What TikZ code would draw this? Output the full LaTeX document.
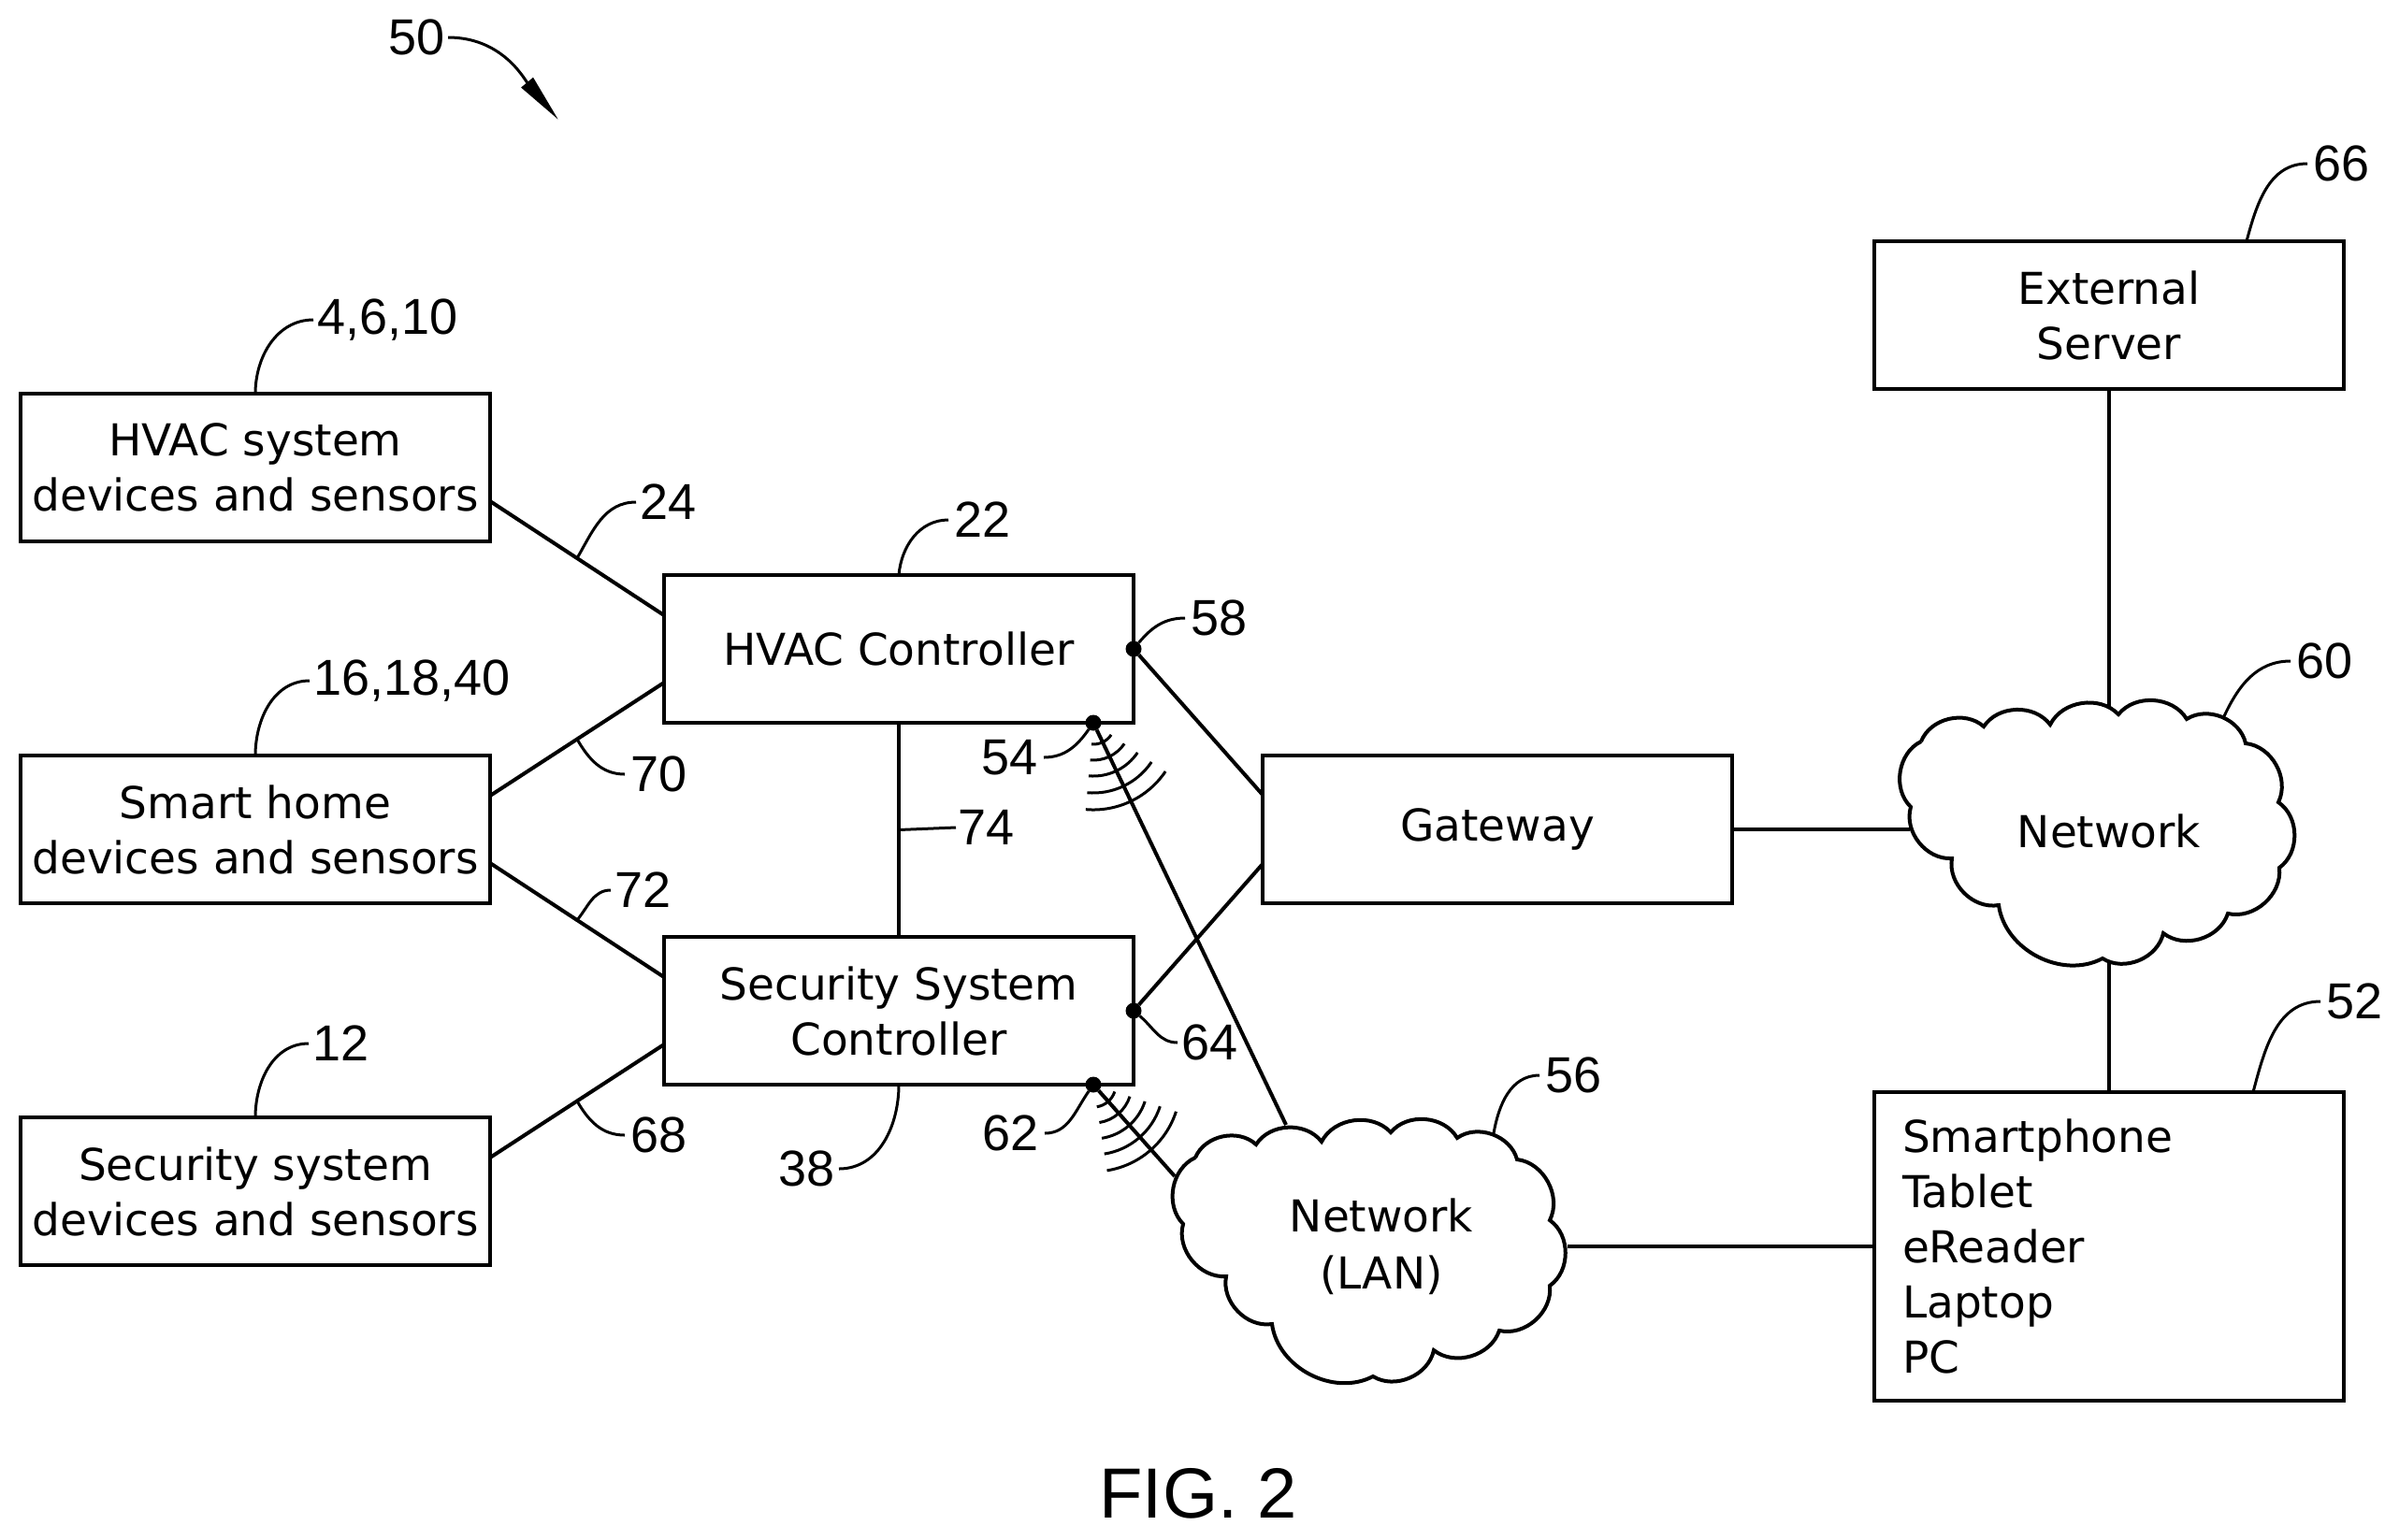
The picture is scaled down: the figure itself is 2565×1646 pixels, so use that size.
\documentclass[tikz,border=0pt]{standalone}
\usepackage{fontspec}
\setmainfont{DejaVu Sans}
\newfontfamily\numfont{Liberation Sans}
\usetikzlibrary{arrows.meta,calc,positioning}
\tikzset{box/.style={draw, line width=2pt, outer sep=0pt, inner sep=0pt, minimum width=251pt, minimum height=79pt, align=center, font=\fontsize{23.5}{29.5}\selectfont}}
\tikzset{wire/.style={draw, line width=2pt}}
\tikzset{leader/.style={draw, line width=1.5pt}}
\tikzset{num/.style={inner sep=0pt, outer sep=0pt, font=\fontsize{27}{30}\numfont}}
\tikzset{spot/.style={circle, fill=black, inner sep=0pt, outer sep=0pt, minimum size=8.5pt}}
\tikzset{lobe/.style={bend left=55}}
\tikzset{cloudtext/.style={align=center, inner sep=0pt, font=\fontsize{23.5}{30.5}\selectfont}}
\begin{document}
\begin{tikzpicture}[x=0.5pt,y=-0.5pt,node distance=114.5pt]
	\useasboundingbox (0,0) rectangle (2565,1646);
	\node [box]                                                  at (273,500)  (hvacsys)  {HVAC system\\devices and sensors};
	\node [box, below=of hvacsys]                                              (smart)    {Smart home\\devices and sensors};
	\node [box, below=of smart]                                                (secsys)   {Security system\\devices and sensors};
	\node [box, right=93pt of hvacsys, yshift=-97pt]                           (hvacctrl) {HVAC Controller};
	\node [box, below=of hvacctrl]                                             (secctrl)  {Security System\\Controller};
	\node [box, right=69pt of hvacctrl, yshift=-96.5pt]                        (gateway)  {Gateway};
	\node [box]                                                  at (2255,337) (server)   {External\\Server};
	\node [box, minimum height=165pt, text width=221pt, align=left, inner xsep=15pt] at (2255,1333) (phone) {Smartphone\\Tablet\\eReader\\Laptop\\PC};
	\node [cloudtext] at (2255,889)  (net) {Network};
	\node [cloudtext] at (1477,1333) (lan) {Network\\(LAN)};
	\node [num, font=\fontsize{38}{40}\numfont] at (1281,1597) (fig) {FIG. 2};
	%
	\node [spot] at (hvacctrl.east) (d58) {};
	\node [spot] at (secctrl.east)  (d64) {};
	\node [spot, xshift=104pt] at (hvacctrl.south) (d54) {};
	\node [spot, xshift=104pt] at (secctrl.south)  (d62) {};
	%
	\draw [wire] (2054,793) to[lobe] (2121,777) to[lobe] (2192,775) to[lobe] (2265,764) to[lobe] (2338,769) to[lobe] (2401,795) to[lobe] (2436,858) to[lobe] (2437,928) to[lobe] (2382,977) to[lobe] (2313,998) to[lobe] (2248,1025) to[lobe] (2137,968) to[lobe] (2087,918) to[lobe] (2043,863) to[lobe] (2054,793);
	\draw [wire] (1278,1238) to[lobe] (1343,1224) to[lobe] (1413,1221) to[lobe] (1487,1211) to[lobe] (1558,1217) to[lobe] (1622,1240) to[lobe] (1657,1305) to[lobe] (1657,1375) to[lobe] (1603,1423) to[lobe] (1533,1444) to[lobe] (1468,1472) to[lobe] (1360,1416) to[lobe] (1311,1365) to[lobe] (1265,1309) to[lobe] (1278,1238);
	\coordinate (nettop)   at (2255,758);
	\coordinate (netleft)  at (2042,887);
	\coordinate (netdown)  at (2255,1030);
	\coordinate (lantop)   at (1375,1203);
	\coordinate (lanleft)  at (1256,1258);
	\coordinate (lanright) at (1676,1333);
	%
	\draw [wire] ([yshift=-18pt]hvacsys.east) -- coordinate[pos=0.5] (c24) ([yshift=18pt]hvacctrl.west);
	\draw [wire] ([yshift=18pt]smart.east) -- coordinate[pos=0.5] (c70) ([yshift=-18pt]hvacctrl.west);
	\draw [wire] ([yshift=-18pt]smart.east) -- coordinate[pos=0.5] (c72) ([yshift=18pt]secctrl.west);
	\draw [wire] ([yshift=18pt]secsys.east) -- coordinate[pos=0.5] (c68) ([yshift=-18pt]secctrl.west);
	\draw [wire] (hvacctrl) -- coordinate[pos=0.5] (c74) (secctrl);
	\draw [wire] (d58) -- ([yshift=18.5pt]gateway.west);
	\draw [wire] (d64) -- ([yshift=-18.5pt]gateway.west);
	\draw [wire] (d54) -- (lantop);
	\draw [wire] (d62) -- (lanleft);
	\draw [wire] (gateway) -- (netleft);
	\draw [wire] (server) -- (nettop);
	\draw [wire] (netdown) -- (phone.north);
	\draw [wire] (lanright) -- (phone.west);
	%
	\foreach \r in {23,40,57,75,93}
		\draw [leader] ([shift={(95:\r)}]d54.center) arc [start angle=95, end angle=34, radius=\r];
	\foreach \r in {24,41,58,75,93}
		\draw [leader] ([shift={(81:\r)}]d62.center) arc [start angle=81, end angle=18, radius=\r];
	%
	\node [num, anchor=west] at (415,40)    (l50)  {50};
	\node [num, anchor=west] at (2455,707)  (l60)  {60};
	\node [num, anchor=west] at (1652,1150) (l56)  {56};
	\node [num, anchor=west] at (2487,1071) (l52)  {52};
	\node [num, anchor=west] at (2473,175)  (l66)  {66};
	\node [num, anchor=west] at (339,342)   (l4)   {4,6,10};
	\node [num, anchor=west] at (684,537)   (l24)  {24};
	\node [num, anchor=west] at (1020,556)  (l22)  {22};
	\node [num, anchor=west] at (335,728)   (l16)  {16,18,40};
	\node [num, anchor=west] at (674,828)   (l70)  {70};
	\node [num, anchor=west] at (657,952)   (l72)  {72};
	\node [num, anchor=west] at (334,1116)  (l12)  {12};
	\node [num, anchor=west] at (674,1214)  (l68)  {68};
	\node [num, anchor=east] at (893,1250)  (l38)  {38};
	\node [num, anchor=west] at (1024,885)  (l74)  {74};
	\node [num, anchor=west] at (1273,661)  (l58)  {58};
	\node [num, anchor=east] at (1110,810)  (l54)  {54};
	\node [num, anchor=west] at (1263,1115) (l64)  {64};
	\node [num, anchor=east] at (1111,1212) (l62)  {62};
	%
	\coordinate (tip50) at (597,128);
	\draw [leader, -{Stealth[length=26pt,width=8pt,inset=0pt]}] ([xshift=2pt]l50.east) to[out=0,in=130] (tip50);
	\draw [leader] ([xshift=73.5pt]server.north) to[out=75,in=180] ([xshift=-3pt]l66.west);
	\draw [leader] (hvacsys.north) to[out=90,in=180] ([xshift=-2pt]l4.west);
	\draw [leader] (c24) to[out=60,in=180] ([xshift=-2pt]l24.west);
	\draw [leader] (hvacctrl.north) to[out=85,in=180] ([xshift=-3pt]l22.west);
	\draw [leader] (smart.north) to[out=90,in=180] ([xshift=-2pt]l16.west);
	\draw [leader] (c70) to[out=-60,in=180] ([xshift=-3pt]l70.west);
	\draw [leader] (c72) to[out=50,in=180] ([xshift=-2pt]l72.west);
	\draw [leader] (secsys.north) to[out=90,in=180] ([xshift=-2pt]l12.west);
	\draw [leader] (c68) to[out=-60,in=180] ([xshift=-3pt]l68.west);
	\draw [leader] (secctrl.south) to[out=-90,in=0] ([xshift=2pt]l38.east);
	\draw [leader] (c74) -- ([xshift=-1pt]l74.west);
	\draw [leader] (d58) to[out=50,in=180] ([xshift=-3pt]l58.west);
	\draw [leader] (d54) to[out=-125,in=0] ([xshift=3pt]l54.east);
	\draw [leader] (d64) to[out=-40,in=180] ([xshift=-2pt]l64.west);
	\draw [leader] (d62) to[out=-125,in=0] ([xshift=3pt]l62.east);
	\draw [leader] (2378,766) to[out=65,in=180] ([xshift=-3pt]l60.west);
	\draw [leader] (1597,1212) to[out=80,in=180] ([xshift=-3pt]l56.west);
	\draw [leader] ([xshift=77pt]phone.north) to[out=75,in=180] ([xshift=-3pt]l52.west);
\end{tikzpicture}
\end{document}
